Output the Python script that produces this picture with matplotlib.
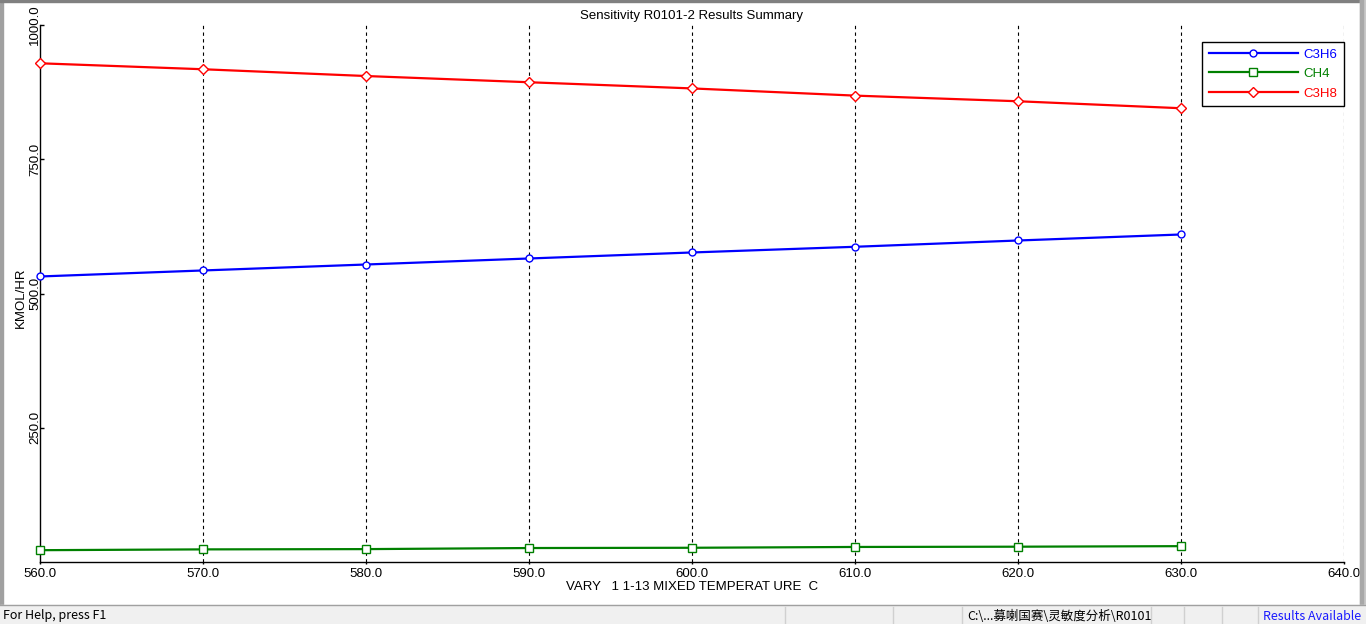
import matplotlib
matplotlib.use("Agg")
import matplotlib.pyplot as plt
from matplotlib.patches import Rectangle
from matplotlib.lines import Line2D

# data
temps = [560, 570, 580, 590, 600, 610, 620, 630]
c3h6 = [531.7, 542.9, 554.0, 565.2, 576.4, 587.0, 598.7, 609.9]
ch4 = [22.0, 23.5, 24.0, 26.0, 26.5, 28.0, 28.5, 29.5]
c3h8 = [928.7, 917.6, 905.0, 893.4, 881.9, 868.5, 858.0, 845.0]

xticks = [560, 570, 580, 590, 600, 610, 620, 630, 640]
yticks = [250, 500, 750, 1000]

plt.rcParams['font.family'] = ['Liberation Sans', 'DejaVu Sans']
FS = 9.5

W, H = 1366, 624
fig = plt.figure(figsize=(W / 100, H / 100), dpi=100)
fig.patch.set_facecolor('white')

# axes box in pixel terms
left, right, top, bottom = 40, 1344, 25, 562
ax = fig.add_axes([left / W, 1 - bottom / H, (right - left) / W, (bottom - top) / H])

ax.plot(temps, c3h6, color='#0000ff', lw=1.6, marker='o', ms=5, mfc='white',
        mec='#0000ff', mew=1, label='C3H6', clip_on=False, zorder=3)
ax.plot(temps, ch4, color='#008000', lw=1.6, marker='s', ms=6, mfc='white',
        mec='#008000', mew=1, label='CH4', clip_on=False, zorder=3)
ax.plot(temps, c3h8, color='#ff0000', lw=1.6, marker='D', ms=5.5, mfc='white',
        mec='#ff0000', mew=1, label='C3H8', clip_on=False, zorder=3)

for x in xticks[1:]:
    ax.axvline(x, color='black', lw=0.8, ls=(0, (3, 3)), zorder=1)

ax.set_xlim(560, 640)
ax.set_ylim(0, 1000)
ax.set_xticks(xticks)
ax.set_xticklabels(['%.1f' % v for v in xticks], fontsize=FS)
ax.set_yticks(yticks)
ax.set_yticklabels(['%.1f' % v for v in yticks], fontsize=FS, rotation=90, va='center')
ax.tick_params(axis='y', direction='in', length=3, width=1, pad=-1)
ax.tick_params(axis='x', direction='out', length=1.5, width=1, pad=2.5)
for s in ['top', 'right']:
    ax.spines[s].set_visible(False)
ax.spines['left'].set_linewidth(1)
ax.spines['bottom'].set_linewidth(1)

ax.set_title('Sensitivity R0101-2 Results Summary', fontsize=FS, pad=4)
fig.text(692 / W, 1 - 587 / H, 'VARY   1 1-13 MIXED TEMPERAT URE  C',
         fontsize=FS, ha='center', va='center')
fig.text(21 / W, 1 - 298 / H, 'KMOL/HR', fontsize=FS, rotation=90,
         ha='center', va='center')

leg = ax.legend(loc='upper right', bbox_to_anchor=(1.0, (bottom - 41.7) / (bottom - top)),
                fontsize=FS, frameon=True, fancybox=False, framealpha=1,
                edgecolor='black', handlelength=6.8, handletextpad=0.4,
                labelspacing=0.55, borderpad=0.5, borderaxespad=0,
                labelcolor='linecolor', numpoints=1)
leg.get_frame().set_linewidth(1)

# window frame and status bar
fig.patches.append(Rectangle((0, 0), 3 / W, 1, transform=fig.transFigure,
                             color='#a0a0a0', zorder=5))
fig.patches.append(Rectangle((0, 1 - 1.5 / H), 1, 1.5 / H, transform=fig.transFigure,
                             color='#808080', zorder=5))
fig.patches.append(Rectangle((1360 / W, 0), 6 / W, 1, transform=fig.transFigure,
                             color='#c8c8c8', zorder=5))
fig.patches.append(Rectangle((1360 / W, 19 / H), 3 / W, 1, transform=fig.transFigure,
                             color='#a8a8a8', zorder=5))
fig.patches.append(Rectangle((0, 0), 1, 19 / H, transform=fig.transFigure,
                             color='#f0f0f0', zorder=6))
fig.lines.append(Line2D([0, 1], [19 / H, 19 / H], transform=fig.transFigure,
                        color='#a0a0a0', lw=1, zorder=7))
for sx in [785, 893, 962, 1151, 1184, 1222, 1258]:
    fig.lines.append(Line2D([sx / W, sx / W], [0, 17 / H], transform=fig.transFigure,
                            color='#d0d0d0', lw=1, zorder=7))

fig.text(3 / W, 1 - 616 / H, 'For Help, press F1', fontsize=9,
         family=['Noto Sans CJK SC', 'DejaVu Sans'], va='center', zorder=8)
fig.text(967 / W, 1 - 616 / H, 'C:\\...募喇国赛\\灵敏度分析\\R0101', fontsize=9,
         family=['Noto Sans CJK SC', 'DejaVu Sans'], va='center', zorder=8)
fig.text(1263 / W, 1 - 616 / H, 'Results Available', fontsize=9, color='#1a1aff',
         family=['Noto Sans CJK SC', 'DejaVu Sans'], va='center', zorder=8)

fig.savefig('out.png', dpi=100)
